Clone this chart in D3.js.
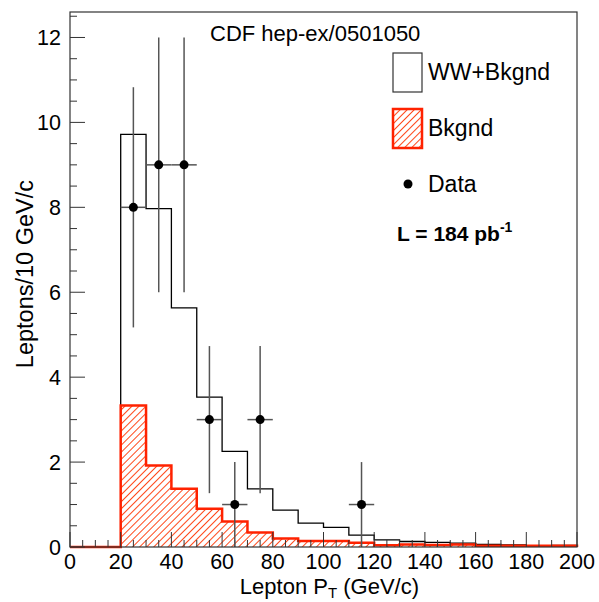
<!DOCTYPE html>
<html>
<head>
<meta charset="utf-8">
<script src="https://cdn.jsdelivr.net/npm/d3@7"></script>
<style>
  body { margin: 0; background: #fff; }
  text { font-family: "Liberation Sans", Arial, sans-serif; fill: #000; }
</style>
</head>
<body>
<svg id="chart" width="599" height="602"></svg>
<script>
// bin low edges, 10 GeV/c wide
var binEdges = [0, 10, 20, 30, 40, 50, 60, 70, 80, 90, 100, 110, 120, 130, 140, 150, 160, 170, 180, 190];
var wwBkgnd = [0, 0, 9.72, 7.97, 5.63, 3.53, 2.25, 1.37, 0.87, 0.56, 0.46, 0.28, 0.17, 0.13, 0.11, 0.09, 0.06, 0.05, 0.03, 0.04];
var bkgnd   = [0, 0, 3.33, 1.92, 1.37, 0.90, 0.60, 0.34, 0.20, 0.14, 0.14, 0.10, 0.04, 0.06, 0.05, 0.06, 0.03, 0.03, 0.03, 0.03];
// data points: bin centre and count (sqrt(N) errors)
var dataX = [25, 35, 45, 55, 65, 75, 115];
var dataY = [8, 9, 9, 3, 1, 3, 1];
var xTicks = [0, 20, 40, 60, 80, 100, 120, 140, 160, 180, 200];
var yTicks = [0, 2, 4, 6, 8, 10, 12];

var svg = d3.select("#chart");
var frameL = 70, frameR = 577, frameT = 12, frameB = 547;
var binWidth = 10;

var x = d3.scaleLinear().domain([0, 200]).range([frameL, frameR]);
var y = d3.scaleLinear().domain([0, 12.6]).range([frameB, frameT]);

// hatch pattern for background
var defs = svg.append("defs");
var pat = defs.append("pattern").attr("id", "hatch")
    .attr("patternUnits", "userSpaceOnUse")
    .attr("width", 5).attr("height", 5)
    .attr("patternTransform", "rotate(45)");
pat.append("rect").attr("width", 5).attr("height", 5).attr("fill", "#fff");
pat.append("line").attr("x1", 0).attr("y1", 0).attr("x2", 0).attr("y2", 5)
    .attr("stroke", "#ff3300").attr("stroke-width", 1.8);

//step outline of a histogram
function stepPath(vals){
    var p = d3.path();
    p.moveTo(x(binEdges[0]), y(0));
    for(var i = 0; i < vals.length; i++){
        p.lineTo(x(binEdges[i]), y(vals[i]));
        p.lineTo(x(binEdges[i] + binWidth), y(vals[i]));
    }
    p.lineTo(x(200), y(0));
    return p.toString();
}

// WW + background histogram (black line)
svg.append("path").attr("d", stepPath(wwBkgnd))
    .attr("fill", "none").attr("stroke", "#000").attr("stroke-width", 1.3);

// background histogram (red hatched)
svg.append("path").attr("d", stepPath(bkgnd) + "Z")
    .attr("fill", "url(#hatch)").attr("stroke", "none");
svg.append("path").attr("d", stepPath(bkgnd))
    .attr("fill", "none").attr("stroke", "#ff2200").attr("stroke-width", 2.5);

// axis ticks (drawn inside the frame, ROOT style)
var g = svg.append("g");
d3.range(0, 200.1, 5).forEach(function(v){
    var len = (v % 20 === 0) ? 15 : 7;
    g.append("line").attr("x1", x(v)).attr("x2", x(v))
        .attr("y1", frameB).attr("y2", frameB - len)
        .attr("stroke", "#333").attr("stroke-width", 1);
});
d3.range(0, 12.51, 0.5).forEach(function(v){
    var len = (Math.abs(v % 2) < 1e-9) ? 15 : 7;
    g.append("line").attr("x1", frameL).attr("x2", frameL + len)
        .attr("y1", y(v)).attr("y2", y(v))
        .attr("stroke", "#333").attr("stroke-width", 1);
});

// data points with errors
var pts = svg.append("g");
for(var i = 0; i < dataX.length; i++){
    var err = Math.sqrt(dataY[i]);
    pts.append("line").attr("x1", x(dataX[i])).attr("x2", x(dataX[i]))
        .attr("y1", y(Math.max(0, dataY[i] - err))).attr("y2", y(Math.min(12.6, dataY[i] + err)))
        .attr("stroke", "#555").attr("stroke-width", 1.5);
    pts.append("line").attr("x1", x(dataX[i] - 5)).attr("x2", x(dataX[i] + 5))
        .attr("y1", y(dataY[i])).attr("y2", y(dataY[i]))
        .attr("stroke", "#555").attr("stroke-width", 1.5);
    pts.append("circle").attr("cx", x(dataX[i])).attr("cy", y(dataY[i])).attr("r", 4.5).attr("fill", "#000");
}

// frame
svg.append("rect").attr("x", frameL).attr("y", frameT)
    .attr("width", frameR - frameL).attr("height", frameB - frameT)
    .attr("fill", "none").attr("stroke", "#333").attr("stroke-width", 1.2);

// tick labels
xTicks.forEach(function(v){
    svg.append("text").attr("x", x(v)).attr("y", 569)
        .attr("text-anchor", "middle").style("font-size", "21.5px").text(v);
});
yTicks.forEach(function(v){
    svg.append("text").attr("x", 61).attr("y", y(v) + 8)
        .attr("text-anchor", "end").style("font-size", "21.5px").text(v);
});

// axis titles
var xt = svg.append("text").attr("x", 419).attr("y", 594)
    .attr("text-anchor", "end").style("font-size", "22px");
xt.append("tspan").text("Lepton P");
xt.append("tspan").attr("dy", 4).style("font-size", "15px").text("T");
xt.append("tspan").attr("dy", -4).text(" (GeV/c)");

svg.append("text").attr("transform", "translate(33,180) rotate(-90)")
    .attr("text-anchor", "end").style("font-size", "23.5px").text("Leptons/10 GeV/c");

svg.append("text").attr("x", 210).attr("y", 41).style("font-size", "22px").text("CDF hep-ex/0501050");

// legend
svg.append("rect").attr("x", 393).attr("y", 53).attr("width", 29).attr("height", 39)
    .attr("fill", "#fff").attr("stroke", "#333").attr("stroke-width", 1.2);
svg.append("text").attr("x", 428).attr("y", 80).style("font-size", "23px").text("WW+Bkgnd");

svg.append("rect").attr("x", 393).attr("y", 109).attr("width", 29).attr("height", 39)
    .attr("fill", "url(#hatch)").attr("stroke", "#ff2200").attr("stroke-width", 2.5);
svg.append("text").attr("x", 428).attr("y", 136).style("font-size", "23px").text("Bkgnd");

svg.append("circle").attr("cx", 408).attr("cy", 184).attr("r", 4.5).attr("fill", "#000");
svg.append("text").attr("x", 428).attr("y", 192).style("font-size", "23px").text("Data");

var lt = svg.append("text").attr("x", 397).attr("y", 241)
    .style("font-size", "21px").style("font-weight", "bold");
lt.append("tspan").text("L = 184 pb");
lt.append("tspan").attr("dy", -9).style("font-size", "14px").text("-1");
</script>
</body>
</html>
